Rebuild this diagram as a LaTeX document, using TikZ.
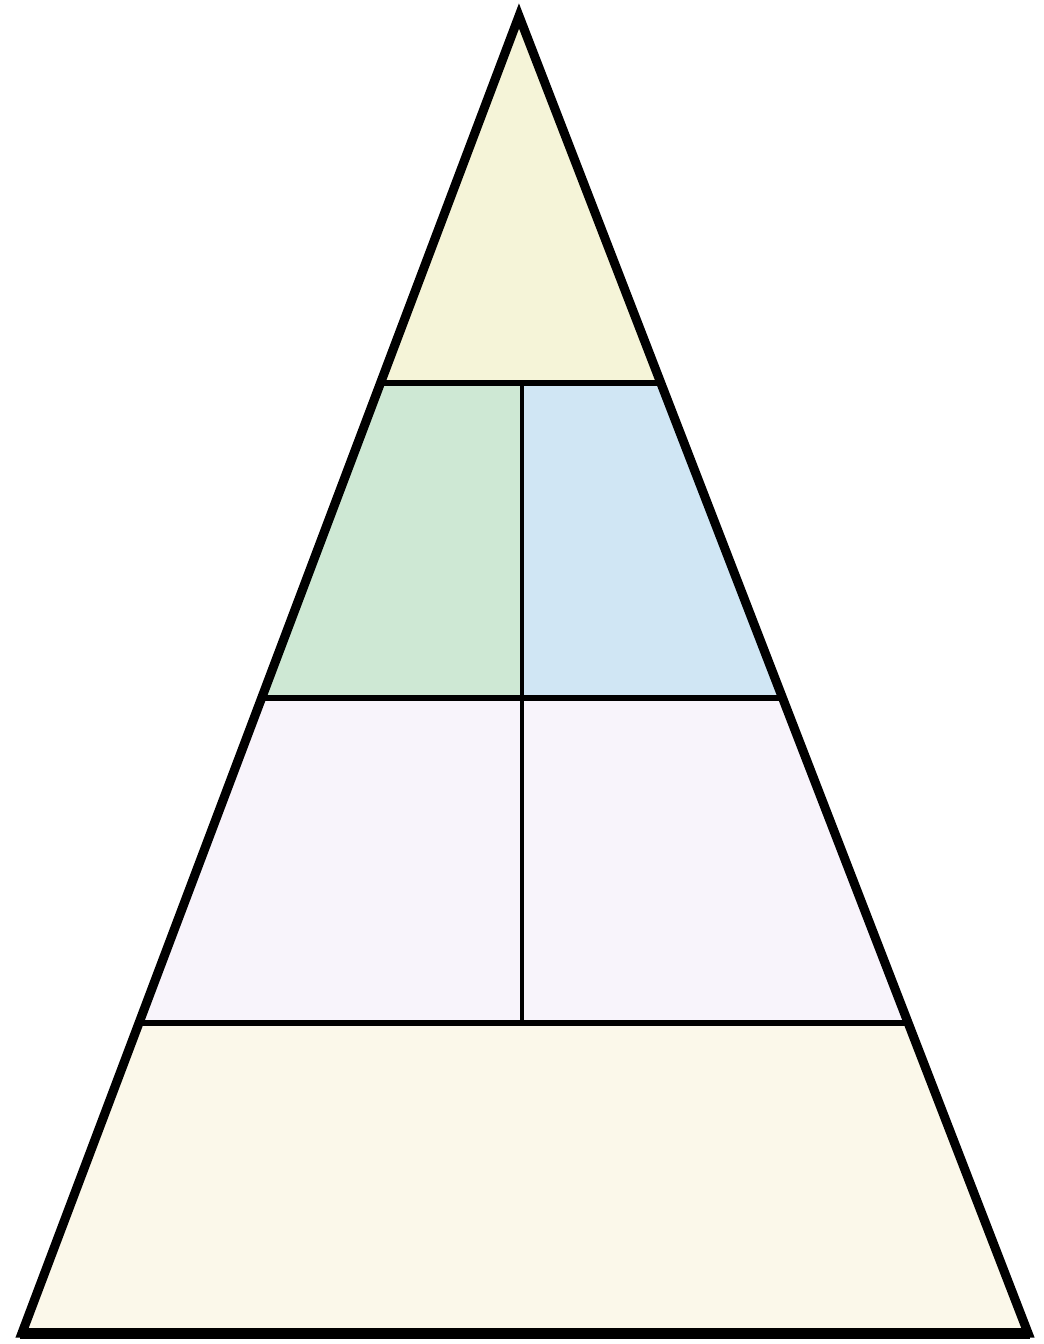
\documentclass[tikz,border=0pt]{standalone}
\usetikzlibrary{calc}
\definecolor{topcol}{RGB}{245,244,216}
\definecolor{greencol}{RGB}{206,232,212}
\definecolor{bluecol}{RGB}{208,230,244}
\definecolor{lavcol}{RGB}{248,244,251}
\definecolor{basecol}{RGB}{251,248,234}
\tikzset{
  outline/.style={line width=9pt, line join=miter, black},
  divider/.style={line width=6pt, black},
  vdivider/.style={line width=4pt, black}
}
\begin{document}
\begin{tikzpicture}[x=1pt,y=-1pt]
\useasboundingbox (0,0) rectangle (1044,1344);
\fill[white] (0,0) rectangle (1044,1344);
\coordinate (A) at (519,16);
\coordinate (L) at (22,1333);
\coordinate (R) at (1028,1333);
\coordinate (L1) at ($(A)!0.2785!(L)$);
\coordinate (R1) at ($(A)!0.2785!(R)$);
\coordinate (L2) at ($(A)!0.5180!(L)$);
\coordinate (R2) at ($(A)!0.5180!(R)$);
\coordinate (L3) at ($(A)!0.7644!(L)$);
\coordinate (R3) at ($(A)!0.7644!(R)$);
\coordinate (M1) at (522,383);
\coordinate (M3) at (522,1022);
\begin{scope}
  \clip (A) -- (L) -- (R) -- cycle;
  \fill[topcol] (0,0) rectangle (1044,383);
  \fill[greencol] (0,383) rectangle (522,697);
  \fill[bluecol] (522,383) rectangle (1044,697);
  \fill[lavcol] (0,697) rectangle (1044,1022);
  \fill[basecol] (0,1022) rectangle (1044,1344);
\end{scope}
\draw[divider] (L1) -- (R1);
\draw[divider] (L2) -- (R2);
\draw[divider] (L3) -- (R3);
\draw[vdivider] (M1) -- (M3);
\draw[outline] (A) -- (L) -- (R) -- cycle;
\draw[line width=11pt] ([xshift=-2pt]L) -- ([xshift=2pt]R);
\end{tikzpicture}
\end{document}
